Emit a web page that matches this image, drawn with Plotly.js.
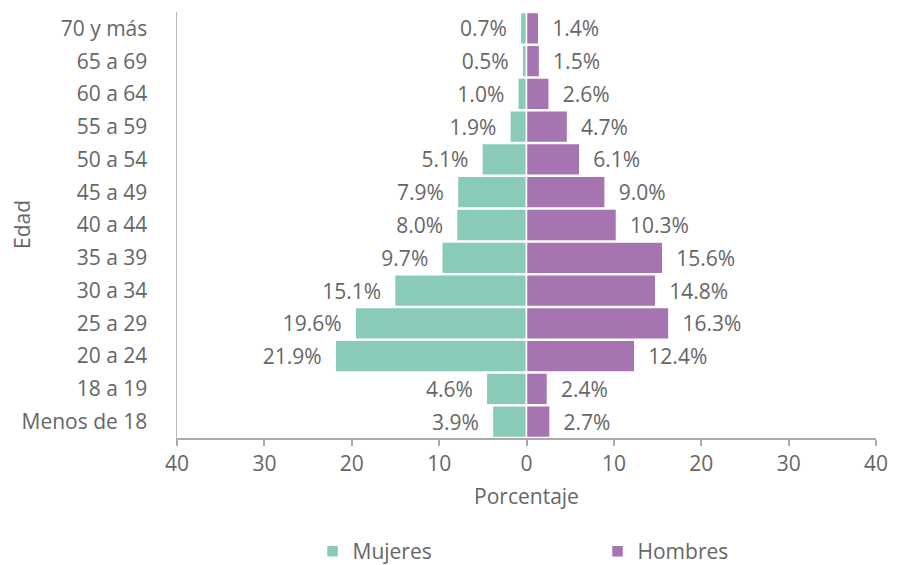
<!DOCTYPE html>
<html><head><meta charset="utf-8">
<script src="https://cdn.plot.ly/plotly-3.0.1.min.js"></script>
<style>html,body{margin:0;padding:0;background:#fff}</style>
</head><body><div id="chart" style="width:898px;height:565px"></div>
<script>
const categories = ["Menos de 18","18 a 19","20 a 24","25 a 29","30 a 34","35 a 39","40 a 44","45 a 49","50 a 54","55 a 59","60 a 64","65 a 69","70 y más"];
const mujeres = [3.9,4.6,21.9,19.6,15.1,9.7,8.0,7.9,5.1,1.9,1.0,0.5,0.7];
const hombres = [2.7,2.4,12.4,16.3,14.8,15.6,10.3,9.0,6.1,4.7,2.6,1.5,1.4];
const tickVals = [-40,-30,-20,-10,0,10,20,30,40];
const tickText = ["40","30","20","10","0","10","20","30","40"];
const fnt = {family:"'Open Sans', sans-serif", size:21, color:"#666"};
const traces = [
 {type:'bar', orientation:'h', name:'Mujeres', y:categories, x:mujeres.map(v=>-v),
  text:mujeres.map(v=>v.toFixed(1)+'%\u2002'), textposition:'outside', cliponaxis:false,
  textfont:fnt, marker:{color:'#89cbb8', line:{color:'#fff', width:1.5}}, hoverinfo:'skip'},
 {type:'bar', orientation:'h', name:'Hombres', y:categories, x:hombres,
  text:hombres.map(v=>'\u2002'+v.toFixed(1)+'%'), textposition:'outside', cliponaxis:false,
  textfont:fnt, marker:{color:'#a674b1', line:{color:'#fff', width:1.5}}, hoverinfo:'skip'}
];
const layout = {
 width:898, height:565, margin:{l:177,r:22,t:12,b:127, autoexpand:false},
 barmode:'overlay', bargap:0.03, font:fnt, showlegend:true,
 paper_bgcolor:'#fff', plot_bgcolor:'#fff',
 xaxis:{range:[-40,40], tickvals:tickVals, ticktext:tickText, showgrid:false, zeroline:false,
   showline:true, linecolor:'#aaa', linewidth:2, ticks:'outside', ticklen:6, tickcolor:'#aaa', tickwidth:2,
   tickfont:fnt, title:{text:'Porcentaje', font:fnt, standoff:13}},
 yaxis:{categoryorder:'array', categoryarray:categories, showgrid:false, zeroline:false,
   showline:true, linecolor:'#bbb', linewidth:1.5, ticks:'', ticklabelstandoff:24, tickfont:fnt},
 annotations:[{text:'Edad', xref:'paper', yref:'paper', x:-0.2217, y:0.5, textangle:-90,
   showarrow:false, font:fnt, xanchor:'center', yanchor:'middle'}],
 legend:{orientation:'h', x:0.348, xanchor:'left', xref:'container', y:0.06, yref:'container', yanchor:'top', entrywidth:240,
   font:fnt, traceorder:'normal'}
};
Plotly.newPlot('chart', traces, layout, {displayModeBar:false, staticPlot:true});
</script></body></html>
